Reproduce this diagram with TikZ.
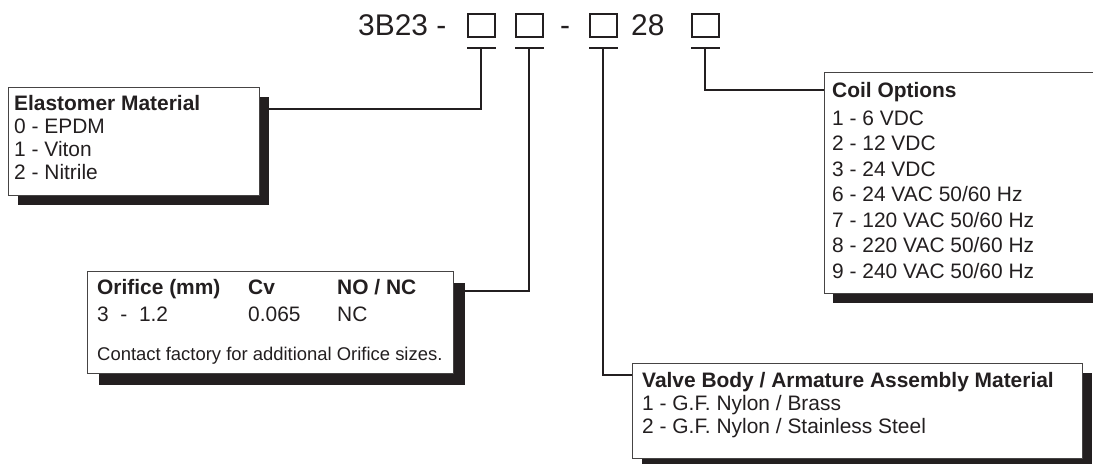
\documentclass[tikz,border=0pt]{standalone}
\usepackage{fontspec}
\setmainfont{Liberation Sans}
\definecolor{inkblack}{RGB}{35,31,32}
\definecolor{rimgray}{RGB}{70,68,68}
\usetikzlibrary{positioning,calc}

\begin{document}
\begin{tikzpicture}[x=1bp,y=-1bp,
  optbox/.style={draw=rimgray,line width=1bp,fill=white,anchor=north west,inner sep=0pt},
  optshadow/.style={fill=inkblack,anchor=north west,inner sep=0pt},
  lead/.style={draw=inkblack,line width=2bp},
  slot/.style={draw=inkblack,line width=1.6bp,minimum width=27bp,minimum height=23bp,inner sep=0pt,anchor=north west},
  txt/.style={anchor=base west,inner sep=0pt,text=inkblack,font=\fontsize{21}{25}\selectfont}]
\clip (0,0) rectangle (1093,464);

% part number
\node[txt,font=\fontsize{30}{30}\selectfont] (code) at (358,36) {3B23 -};
\node[slot] (slotA) at (467,13) {};
\node[slot] (slotB) at (515,13) {};
\node[txt,font=\fontsize{30}{30}\selectfont] (dash) at (560,36) {-};
\node[slot] (slotC) at (589,13) {};
\node[txt,font=\fontsize{30}{30}\selectfont] (size) at (631,36) {28};
\node[slot] (slotD) at (691,13) {};

% tees under the slots
\foreach \s in {A,B,C,D}{
  \draw[lead] ($(slot\s.south west)+(0,10)$) -- ($(slot\s.south east)+(0,10)$);
  \coordinate (tee\s) at ($(slot\s.south)+(0,10)$);
}

% option boxes with shadows
\node[optshadow,minimum width=251bp,minimum height=108bp] (elastS) at (18,97) {};
\node[optbox,minimum width=251bp,minimum height=108bp] (elast) at (8,87) {};
\node[optshadow,minimum width=366bp,minimum height=102bp] (orifS) at (99,283) {};
\node[optbox,minimum width=366bp,minimum height=102bp] (orif) at (87,271) {};
\node[optshadow,minimum width=450bp,minimum height=95bp] (valveS) at (642,373) {};
\node[optbox,minimum width=450bp,minimum height=95bp] (valve) at (632,363) {};
\node[optshadow,minimum width=300bp,minimum height=221bp] (coilS) at (833,82) {};
\node[optbox,minimum width=300bp,minimum height=221bp] (coil) at (824,72) {};

% leads
\draw[lead] (teeA) |- ($(elastS.north east)+(0,12)$);
\draw[lead] (teeB) |- ($(orifS.north east)+(0,8)$);
\draw[lead] (teeC) |- ($(valve.north west)+(0,12)$);
\draw[lead] (teeD) |- ($(coil.north west)+(0,18)$);

% Elastomer
\node[txt,font=\fontsize{21}{25}\bfseries] (elastH) at (14,111) {Elastomer Material};
\foreach \i/\row in {1/{0 - EPDM},2/{1 - Viton},3/{2 - Nitrile}}
  \node[txt] (elast\i) at (14,111+\i*23) {\row};

% Orifice
\node[txt,font=\fontsize{21}{25}\bfseries] (orifH) at (97,295) {Orifice (mm)};
\node[txt,font=\fontsize{21}{25}\bfseries] (cvH) at (248,295) {Cv};
\node[txt,font=\fontsize{21}{25}\bfseries] (nocH) at (337,295) {NO / NC};
\node[txt] (orifV) at (97,322) {3 \ - \ 1.2};
\node[txt] (cvV) at (248,322) {0.065};
\node[txt] (nocV) at (337,322) {NC};
\node[txt,font=\fontsize{18.5}{22}\selectfont] (orifN) at (97,361) {Contact factory for additional Orifice sizes.};

% Valve body
\node[txt,font=\fontsize{21}{25}\bfseries] (valveH) at (642,388) {Valve Body / Armature Assembly Material};
\foreach \i/\row in {1/{1 - G.F. Nylon / Brass},2/{2 - G.F. Nylon / Stainless Steel}}
  \node[txt] (valve\i) at (642,388+\i*23) {\row};

% Coil
\node[txt,font=\fontsize{21}{25}\bfseries] (coilH) at (832,98) {Coil Options};
\foreach \i/\row in {1/{1 - 6 VDC},2/{2 - 12 VDC},3/{3 - 24 VDC},4/{6 - 24 VAC 50/60 Hz},5/{7 - 120 VAC 50/60 Hz},6/{8 - 220 VAC 50/60 Hz},7/{9 - 240 VAC 50/60 Hz}}
  \node[txt] (coil\i) at (832,100+\i*25.5) {\row};
\end{tikzpicture}
\end{document}
